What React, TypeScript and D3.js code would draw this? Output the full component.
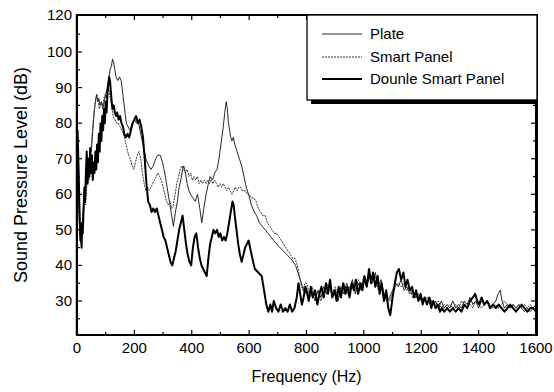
import React from 'react';
import * as d3 from 'd3';

type P = [number, number];

const xTicks = [0, 200, 400, 600, 800, 1000, 1200, 1400, 1600];
const xMinorTicks = [100, 300, 500, 700, 900, 1100, 1300, 1500];
const yTicks = [30, 40, 50, 60, 70, 80, 90, 100];
const yMinorTicks = [25, 35, 45, 55, 65, 75, 85, 95, 105];
const yTopLabel = '120';
const seriesNames = ['Plate', 'Smart Panel', 'Dounle Smart Panel'];

const plate: P[] = [
  [0, 77], [3, 70], [6, 58], [9, 50], [12, 47], [15, 52], [18, 49], [22, 56], [26, 62], [30, 60], [34, 66], [38, 70],
  [42, 68], [46, 73], [50, 72], [55, 78], [60, 83], [64, 86], [68, 88], [72, 86], [76, 87], [80, 85], [85, 86], [90, 84],
  [95, 86], [100, 88], [105, 90], [110, 92], [115, 95], [120, 96], [124, 98], [128, 97], [132, 95], [136, 93], [142, 92],
  [148, 93], [154, 92], [160, 88], [166, 84], [172, 80], [178, 79], [185, 78], [192, 80], [200, 81], [208, 80], [215, 80],
  [222, 77], [230, 74], [240, 70], [250, 68], [258, 67], [266, 68], [274, 70], [282, 71], [290, 71], [298, 69], [306, 66],
  [314, 62], [322, 58], [330, 54], [336, 51], [343, 55], [350, 58], [356, 62], [362, 64], [368, 67], [372, 68], [378, 66],
  [384, 63], [390, 61], [396, 60], [404, 59], [412, 58], [420, 60], [428, 56], [435, 52], [442, 56], [450, 60], [458, 63],
  [464, 65], [472, 64], [480, 66], [488, 67], [495, 70], [500, 73], [505, 76], [510, 79], [515, 83], [520, 86], [524, 84],
  [528, 80], [532, 78], [536, 76], [540, 75], [545, 76], [550, 74], [558, 72], [566, 70], [574, 68], [582, 65], [590, 62],
  [598, 60], [608, 57], [618, 55], [626, 54], [636, 52], [646, 51], [656, 50], [666, 49], [676, 48], [686, 47], [696, 46],
  [708, 45], [720, 44], [732, 43], [744, 42], [754, 41], [762, 40], [770, 38], [778, 36], [786, 34], [794, 32],
  [800, 33], [810, 31], [820, 32], [830, 30], [840, 33], [850, 31], [860, 34], [870, 32], [880, 35], [890, 31], [900, 33],
  [910, 30], [920, 34], [930, 32], [940, 35], [950, 33], [960, 36], [970, 32], [980, 35], [990, 33], [1000, 36], [1010, 34],
  [1020, 37], [1030, 35], [1040, 38], [1050, 34], [1060, 36], [1070, 32], [1080, 30], [1090, 31], [1100, 33], [1110, 35],
  [1120, 34], [1130, 36], [1140, 33], [1150, 34], [1160, 32], [1170, 33], [1180, 31], [1190, 32], [1200, 30], [1210, 31],
  [1220, 29], [1230, 31], [1240, 29], [1250, 30], [1260, 28], [1270, 30], [1280, 28], [1290, 29], [1300, 28], [1310, 30],
  [1320, 28], [1330, 29], [1340, 28], [1350, 30], [1360, 29], [1370, 31], [1380, 29], [1390, 30], [1400, 28], [1410, 30],
  [1420, 29], [1430, 30], [1440, 28], [1450, 29], [1460, 30], [1468, 32], [1475, 33], [1482, 30], [1490, 28], [1500, 29],
  [1510, 28], [1520, 29], [1530, 28], [1540, 29], [1550, 28], [1560, 27], [1570, 28], [1580, 27], [1590, 28], [1600, 29],
];

const smartPanel: P[] = [
  [0, 72], [3, 66], [6, 60], [9, 53], [12, 48], [15, 46], [18, 50], [22, 54], [26, 58], [30, 57], [34, 62], [38, 66],
  [42, 64], [46, 70], [50, 74], [54, 78], [58, 82], [62, 85], [66, 87], [70, 88], [74, 86], [78, 84], [82, 85], [86, 86],
  [90, 85], [94, 87], [98, 88], [102, 87], [106, 89], [110, 90], [114, 88], [118, 86], [122, 84], [126, 82], [132, 81],
  [138, 80], [144, 80], [150, 79], [156, 78], [162, 77], [168, 75], [174, 73], [180, 71], [186, 70], [192, 68], [198, 67],
  [204, 69], [210, 71], [216, 72], [222, 70], [228, 66], [234, 63], [240, 61], [246, 62], [252, 61], [258, 62], [264, 63],
  [270, 64], [276, 65], [282, 66], [288, 65], [294, 64], [300, 62], [306, 60], [312, 58], [318, 57], [324, 58], [330, 56],
  [336, 57], [342, 60], [348, 63], [354, 65], [360, 67], [366, 68], [372, 67], [378, 66], [384, 67], [390, 65], [396, 66],
  [402, 64], [408, 65], [414, 64], [420, 65], [426, 63], [432, 64], [438, 63], [444, 64], [450, 63], [456, 64], [462, 63],
  [468, 64], [474, 63], [480, 64], [486, 63], [492, 62], [498, 63], [504, 62], [510, 63], [516, 62], [522, 61], [528, 62],
  [534, 61], [540, 60], [546, 61], [552, 62], [558, 61], [564, 62], [570, 62], [576, 61], [582, 61], [588, 61], [594, 60],
  [600, 60], [608, 59], [616, 59], [624, 58], [632, 56], [640, 55], [648, 54], [656, 54], [664, 52], [672, 51], [680, 50],
  [688, 49], [696, 49], [704, 48], [712, 47], [720, 46], [728, 45], [736, 44], [744, 43], [752, 42], [760, 42], [768, 40],
  [776, 37], [782, 34], [788, 33], [794, 35],
  [800, 35], [810, 32], [820, 34], [830, 31], [840, 33], [850, 30], [860, 32], [870, 35], [880, 33], [890, 32], [900, 34],
  [910, 31], [920, 33], [930, 35], [940, 32], [950, 34], [960, 35], [970, 33], [980, 36], [990, 34], [1000, 37], [1010, 35],
  [1020, 38], [1030, 36], [1040, 37], [1050, 33], [1060, 35], [1070, 31], [1080, 32], [1090, 30], [1100, 32], [1110, 34],
  [1120, 35], [1130, 34], [1140, 35], [1150, 33], [1160, 34], [1170, 31], [1180, 32], [1190, 30], [1200, 31], [1210, 30],
  [1220, 31], [1230, 29], [1240, 30], [1250, 29], [1260, 30], [1270, 28], [1280, 29], [1290, 28], [1300, 29], [1310, 28],
  [1320, 29], [1330, 28], [1340, 30], [1350, 29], [1360, 28], [1370, 29], [1380, 28], [1390, 30], [1400, 29], [1410, 28],
  [1420, 29], [1430, 30], [1440, 29], [1450, 28], [1460, 29], [1470, 28], [1480, 29], [1490, 30], [1500, 29], [1510, 28],
  [1520, 29], [1530, 28], [1540, 29], [1550, 28], [1560, 29], [1570, 28], [1580, 29], [1590, 28], [1600, 29],
];

const doubleSmartPanel: P[] = [
  [0, 70], [2, 78], [4, 72], [6, 66], [8, 58], [10, 52], [12, 47], [14, 50], [16, 45], [18, 52], [20, 49], [23, 56],
  [26, 62], [28, 58], [31, 66], [34, 72], [37, 63], [40, 70], [43, 65], [46, 73], [49, 66], [52, 71], [55, 64], [58, 69],
  [61, 66], [64, 72], [67, 67], [70, 74], [73, 69], [76, 77], [79, 72], [82, 80], [85, 75], [88, 82], [91, 78], [94, 84],
  [97, 80], [100, 86], [103, 83], [106, 88], [109, 91], [112, 93], [115, 92], [118, 89], [121, 86], [124, 84], [128, 85],
  [132, 83], [136, 82], [140, 83], [145, 81], [150, 82], [155, 80], [160, 79], [165, 77], [170, 76], [176, 77], [182, 76],
  [188, 78], [194, 80], [200, 81], [206, 82], [212, 80], [218, 81], [224, 79], [230, 76], [236, 70], [242, 63], [248, 58],
  [254, 57], [260, 55], [266, 56], [272, 55], [278, 56], [284, 54], [290, 52], [296, 50], [302, 48], [308, 47], [314, 45],
  [320, 43], [326, 41], [332, 40], [338, 42], [344, 44], [350, 47], [356, 50], [362, 52], [368, 54], [374, 50], [380, 46],
  [386, 43], [392, 41], [398, 40], [404, 45], [410, 48], [416, 49], [422, 45], [428, 42], [434, 40], [440, 39], [446, 38],
  [452, 37], [458, 42], [464, 46], [470, 48], [476, 50], [482, 49], [488, 50], [494, 48], [500, 49], [506, 47], [512, 48],
  [518, 47], [524, 49], [530, 52], [536, 55], [542, 58], [546, 57], [550, 54], [556, 50], [562, 46], [568, 43], [574, 41],
  [580, 43], [586, 45], [592, 46], [598, 47], [606, 44], [614, 41], [620, 39], [632, 38], [644, 37], [652, 33], [660, 29],
  [667, 27], [674, 29], [680, 27], [686, 30], [694, 28], [702, 27], [710, 29], [718, 27], [726, 28], [734, 27], [742, 29],
  [750, 27], [758, 28], [766, 31], [772, 35], [778, 32], [784, 29], [790, 31], [796, 34],
  [800, 33], [808, 30], [815, 34], [822, 31], [830, 33], [838, 29], [845, 32], [852, 34], [860, 31], [868, 35], [875, 32],
  [882, 36], [890, 31], [898, 33], [905, 30], [912, 34], [920, 31], [928, 35], [935, 32], [942, 34], [950, 31], [958, 35],
  [965, 33], [972, 36], [980, 32], [988, 35], [995, 33], [1002, 37], [1010, 34], [1018, 39], [1025, 35], [1032, 38],
  [1040, 34], [1048, 37], [1055, 32], [1062, 35], [1070, 30], [1078, 33], [1085, 28], [1092, 26], [1100, 31], [1108, 35],
  [1115, 38], [1122, 39], [1130, 36], [1138, 38], [1145, 34], [1152, 36], [1160, 33], [1168, 34], [1175, 31], [1182, 33],
  [1190, 30], [1198, 32], [1205, 29], [1212, 31], [1220, 29], [1228, 31], [1235, 28], [1242, 30], [1250, 28], [1258, 29],
  [1265, 27], [1272, 28], [1280, 27], [1290, 28], [1300, 27], [1310, 28], [1320, 27], [1330, 28], [1340, 27], [1350, 29],
  [1360, 28], [1370, 30], [1380, 31], [1388, 32], [1395, 30], [1402, 29], [1410, 31], [1420, 29], [1430, 30], [1440, 28],
  [1450, 29], [1460, 28], [1470, 29], [1480, 28], [1490, 27], [1500, 28], [1510, 29], [1520, 28], [1530, 27], [1540, 28],
  [1550, 29], [1560, 28], [1570, 27], [1580, 28], [1590, 28], [1600, 27],
];

const FONT = 'Arial, "Liberation Sans", Helvetica, sans-serif';

export default function App() {
  const left = 77, right = 536, top = 15, bottom = 335;
  const x = d3.scaleLinear().domain([0, 1600]).range([left, right]);
  const y = d3.scaleLinear().domain([30, 100]).range([301, 52]);
  const line = d3.line<P>().x((d) => x(d[0])).y((d) => y(d[1]));

  const styles = [
    { stroke: '#111', width: 0.9, dash: undefined as string | undefined },
    { stroke: '#333', width: 1.0, dash: '2 1' },
    { stroke: '#000', width: 2.0, dash: undefined as string | undefined },
  ];
  const data = [plate, smartPanel, doubleSmartPanel];

  const legX = 307, legR = 537, legTop = 15, legBottom = 100;
  const legRows = [34, 57, 79];

  return (
    <svg width={554} height={392} style={{ position: 'absolute', left: 0, top: 0, background: '#fff' }}
      fontFamily={FONT}>
      <defs>
        <clipPath id="plotclip">
          <rect x={left} y={top} width={right - left} height={bottom - top} />
        </clipPath>
      </defs>
      <rect x={0} y={0} width={554} height={392} fill="#fff" />
      <g clipPath="url(#plotclip)">
        {data.map((d, i) => (
          <path key={i} d={line(d) || ''} fill="none" stroke={styles[i].stroke}
            strokeWidth={styles[i].width} strokeDasharray={styles[i].dash} strokeLinejoin="round" />
        ))}
      </g>
      {xTicks.map((t) => (
        <g key={'xt' + t}>
          <line x1={x(t)} x2={x(t)} y1={bottom} y2={bottom - 5} stroke="#000" strokeWidth={1.2} />
          <line x1={x(t)} x2={x(t)} y1={top} y2={top + 5} stroke="#000" strokeWidth={1.2} />
          <text x={x(t)} y={353} textAnchor="middle" fontSize={15}>{t}</text>
        </g>
      ))}
      {xMinorTicks.map((t) => (
        <g key={'xm' + t}>
          <line x1={x(t)} x2={x(t)} y1={bottom} y2={bottom - 3} stroke="#000" strokeWidth={1.2} />
          <line x1={x(t)} x2={x(t)} y1={top} y2={top + 3} stroke="#000" strokeWidth={1.2} />
        </g>
      ))}
      {yTicks.map((t) => (
        <g key={'yt' + t}>
          <line x1={left} x2={left + 5} y1={y(t)} y2={y(t)} stroke="#000" strokeWidth={1.2} />
          <line x1={right} x2={right - 5} y1={y(t)} y2={y(t)} stroke="#000" strokeWidth={1.2} />
          <text x={72} y={y(t) + 5} textAnchor="end" fontSize={15}>{t}</text>
        </g>
      ))}
      {yMinorTicks.map((t) => (
        <g key={'ym' + t}>
          <line x1={left} x2={left + 3} y1={y(t)} y2={y(t)} stroke="#000" strokeWidth={1.2} />
          <line x1={right} x2={right - 3} y1={y(t)} y2={y(t)} stroke="#000" strokeWidth={1.2} />
        </g>
      ))}
      <text x={72} y={top + 5} textAnchor="end" fontSize={15}>{yTopLabel}</text>
      <rect x={left} y={top} width={right - left} height={bottom - top} fill="none" stroke="#000" strokeWidth={2} />
      <line x1={left - 0.5} x2={left - 0.5} y1={top} y2={bottom} stroke="#000" strokeWidth={1.5} />
      <line x1={right + 1} x2={right + 1} y1={top - 1} y2={bottom + 1} stroke="#000" strokeWidth={2} />
      <rect x={legX} y={legTop} width={legR - legX} height={legBottom - legTop} fill="#fff" stroke="#000" strokeWidth={1.3} />
      <line x1={legX + 4} x2={legR} y1={legBottom + 2} y2={legBottom + 2} stroke="#000" strokeWidth={4} />
      {seriesNames.map((n, i) => (
        <g key={n}>
          <line x1={322} x2={362} y1={legRows[i]} y2={legRows[i]} stroke={styles[i].stroke}
            strokeWidth={styles[i].width} strokeDasharray={styles[i].dash} />
          <text x={370} y={legRows[i] + 5} fontSize={15}>{n}</text>
        </g>
      ))}
      <text x={(left + right) / 2} y={382} textAnchor="middle" fontSize={16}>Frequency (Hz)</text>
      <text transform={`translate(27, ${(top + bottom) / 2}) rotate(-90)`} textAnchor="middle" fontSize={18}>
        Sound Pressure Level (dB)
      </text>
    </svg>
  );
}
